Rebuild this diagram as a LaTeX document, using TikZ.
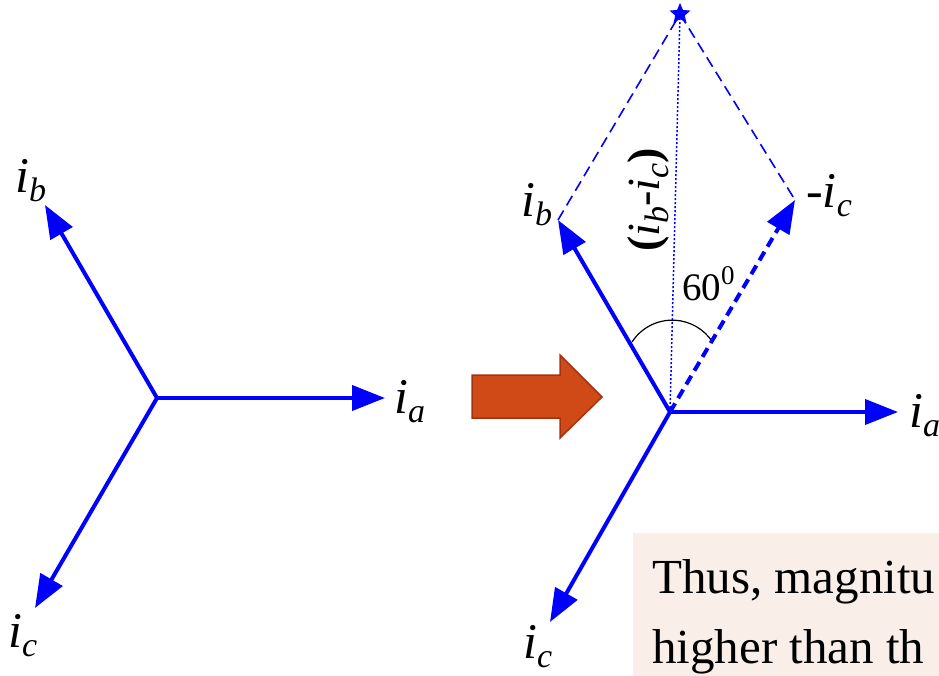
\documentclass[tikz,border=0pt]{standalone}
\usepackage{fontspec}
\setmainfont{Liberation Serif}
\usetikzlibrary{arrows.meta,shapes.geometric}
\definecolor{vblue}{RGB}{0,0,255}
\definecolor{arrfill}{RGB}{208,74,24}
\definecolor{arredge}{RGB}{165,50,15}
\definecolor{boxfill}{RGB}{250,238,233}
\newcommand{\cur}[2]{{\itshape #1}\raisebox{-9pt}{\fontsize{34}{34}\selectfont\itshape #2}}
\begin{document}
\begin{tikzpicture}[x=1pt,y=-1pt,
  vec/.style={vblue, line width=4pt, -{Triangle[length=33pt,width=25pt]}},
  par/.style={vblue, line width=1.6pt, dash pattern=on 11pt off 6pt},
  lbl/.style={font=\fontsize{50}{50}\selectfont, inner sep=0pt, anchor=base west}]
\path[use as bounding box] (0,0) rectangle (939,676);
\clip (0,0) rectangle (939,676);

% left diagram
\coordinate (O1) at (157,398);
\coordinate (A1) at (385,398);
\coordinate (B1) at (45,205);
\coordinate (C1) at (35,608);
\draw[vec] (O1) -- (A1);
\draw[vec] (O1) -- (B1);
\draw[vec] (O1) -- (C1);
\node[lbl] (la1) at (394,413) {\cur{i}{a}};
\node[lbl] (lb1) at (15,193) {\cur{i}{b}};
\node[lbl] (lc1) at (8,647) {\cur{i}{c}};

% orange arrow
\draw[fill=arrfill, draw=arredge, line width=1.5pt, line join=miter]
  (472,375) -- (560,375) -- (560,355) -- (602,397) -- (560,438) -- (560,418) -- (472,418) -- cycle;

% right diagram
\coordinate (O2) at (670,412);
\coordinate (A2) at (898,412);
\coordinate (B2) at (558,220);
\coordinate (C2) at (550,622);
\coordinate (NC) at (795,200);
\node[star, star points=5, star point ratio=2.2, fill=vblue, minimum size=22pt, inner sep=0pt] (T) at (680,14) {};
\draw[par] (B2) -- (T.center);
\draw[par] (T.center) -- (NC);
\draw[vblue, line width=1.5pt, dash pattern=on 2pt off 2pt] (O2) -- (T.center);
\draw[line width=1.2pt] (632,342) arc[start angle=213, end angle=327, radius=48];
\draw[vec, dash pattern=on 10pt off 6pt] (O2) -- (NC);
\draw[vec] (O2) -- (A2);
\draw[vec] (O2) -- (B2);
\draw[vec] (O2) -- (C2);
\node[lbl] (lb2) at (521,217) {\cur{i}{b}};
\node[lbl] (lnc) at (806,208) {{\upshape -}\cur{i}{c}};
\node[lbl] (lc2) at (523,658) {\cur{i}{c}};
\node[lbl] (la2) at (909,427) {\cur{i}{a}};
\node[rotate=90, inner sep=0pt, font=\fontsize{46}{46}\selectfont] (lbc) at (648,200)
  {\textbf{(}\cur{i}{b}-\cur{i}{c}\textbf{)}};
\node[inner sep=0pt, anchor=base west, font=\fontsize{39}{39}\selectfont] (l60) at (682,300)
  {60\raisebox{16pt}{\fontsize{27}{27}\selectfont 0}};

% text box
\fill[boxfill] (633,533) rectangle (945,680);
\node[inner sep=0pt, anchor=base west, font=\fontsize{49}{49}\selectfont] (t1) at (652,593) {Thus, magnitu};
\node[inner sep=0pt, anchor=base west, font=\fontsize{49}{49}\selectfont] (t2) at (652,663) {higher than th};
\end{tikzpicture}
\end{document}
